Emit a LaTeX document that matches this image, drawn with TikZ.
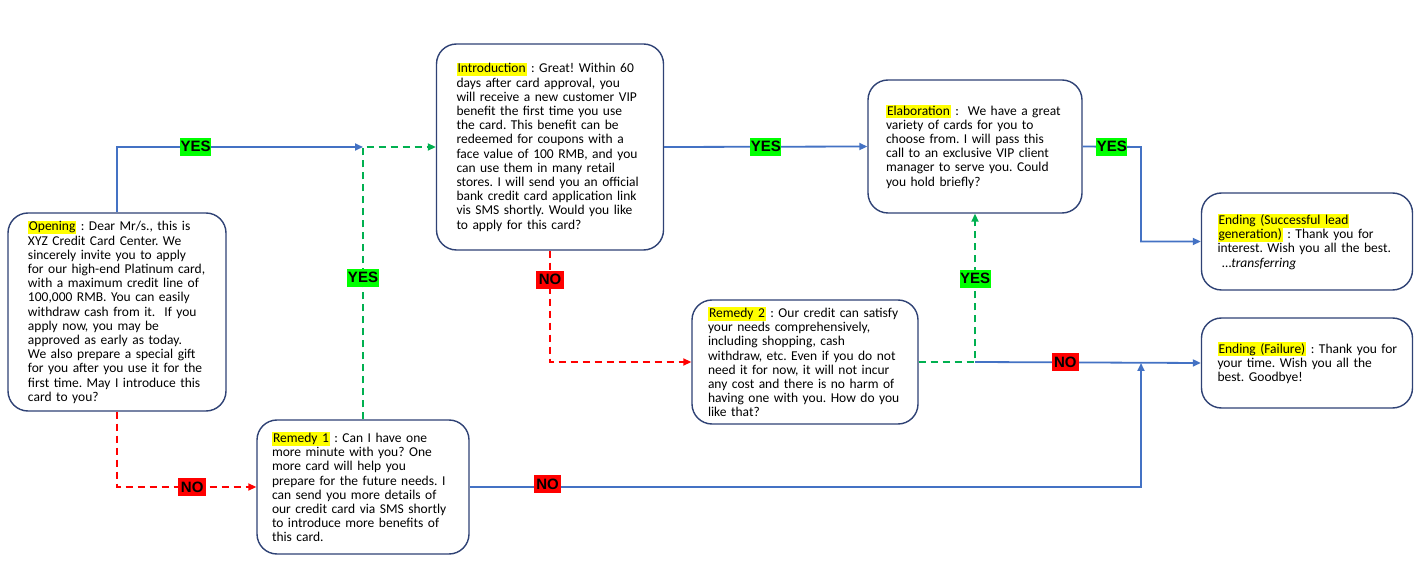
\documentclass[tikz,border=0pt]{standalone}
\usepackage{fontspec}
\setmainfont{Carlito}
\newfontfamily\lblfont{Liberation Sans}
\usetikzlibrary{arrows.meta}
\definecolor{lnblue}{HTML}{4472C4}
\definecolor{lngreen}{HTML}{00B050}
\definecolor{lnred}{HTML}{FF0000}
\definecolor{bxborder}{HTML}{2F4275}
\definecolor{hlyel}{HTML}{FFFF00}
\definecolor{lblgreen}{HTML}{00FF00}
\newcommand\hlt[1]{{\setlength{\fboxsep}{1pt}\colorbox{hlyel}{\vphantom{Ag}#1}}}
\frenchspacing
\begin{document}
\begin{tikzpicture}[x=1pt,y=-1pt,
  box/.style={draw=bxborder, line width=1.4pt, rounded corners=20pt, fill=white,
    align=left, inner xsep=4pt, inner ysep=2pt, font=\fontsize{13.5}{14.2}\selectfont\frenchspacing},
  tip/.style={-{Triangle[length=8pt,width=7pt]}},
  blueln/.style={draw=lnblue, line width=1.8pt, tip},
  greenln/.style={draw=lngreen, line width=1.8pt, dash pattern=on 7pt off 5pt, tip},
  redln/.style={draw=lnred, line width=1.8pt, dash pattern=on 7pt off 5pt, tip},
  lbl/.style={inner ysep=2pt, text height=12pt, text depth=2pt,
    font=\lblfont\bfseries\fontsize{15}{15}\selectfont, text=black},
  yeslbl/.style={lbl, inner xsep=0.5pt, fill=lblgreen},
  nolbl/.style={lbl, inner xsep=2.5pt, fill=lnred}]
\useasboundingbox (0,0) rectangle (1428,585);
\fill[white] (0,0) rectangle (1428,585);

\node[box, text width=210pt, minimum height=198pt] (open) at (117,312) {\leftskip=16pt
\hlt{Opening} : Dear Mr/s., this is\\
XYZ Credit Card Center. We\\
sincerely invite you to apply\\
for our high-end Platinum card,\\
with a maximum credit line of\\
100,000 RMB. You can easily\\
withdraw cash from it.\ \ If you\\
apply now, you may be\\
approved as early as today.\\
We also prepare a special gift\\
for you after you use it for the\\
first time. May I introduce this\\
card to you?\par};

\node[box, text width=204pt, minimum height=134pt] (rem1) at (363,487) {\leftskip=11pt
\hlt{Remedy 1} : Can I have one\\
more minute with you? One\\
more card will help you\\
prepare for the future needs. I\\
can send you more details of\\
our credit card via SMS shortly\\
to introduce more benefits of\\
this card.\par};

\node[box, text width=219pt, minimum height=206pt] (intro) at (550,147) {\leftskip=16pt
\hlt{Introduction} : Great! Within 60\\
days after card approval, you\\
will receive a new customer VIP\\
benefit the first time you use\\
the card. This benefit can be\\
redeemed for coupons with a\\
face value of 100 RMB, and you\\
can use them in many retail\\
stores. I will send you an official\\
bank credit card application link\\
vis SMS shortly. Would you like\\
to apply for this card?\par};

\node[box, text width=218pt, minimum height=124pt] (rem2) at (805,362) {\leftskip=12pt
\hlt{Remedy 2} : Our credit can satisfy\\
your needs comprehensively,\\
including shopping, cash\\
withdraw, etc. Even if you do not\\
need it for now, it will not incur\\
any cost and there is no harm of\\
having one with you. How do you\\
like that?\par};

\node[box, text width=206pt, minimum height=133pt] (elab) at (975,146.5) {\leftskip=14pt
\hlt{Elaboration} :\ \ We have a great\\
variety of cards for you to\\
choose from. I will pass this\\
call to an exclusive VIP client\\
manager to serve you. Could\\
you hold briefly?\par};

\node[box, text width=203pt, minimum height=97pt] (succ) at (1307,241.5) {\leftskip=12pt
\hlt{Ending (Successful lead}\\
\hlt{generation)} : Thank you for\\
interest. Wish you all the best.\\
\ \ldots\textit{transferring}\par};

\node[box, text width=203pt, minimum height=90pt] (fail) at (1307,363) {\leftskip=12pt
\hlt{Ending (Failure)} : Thank you for\\
your time. Wish you all the\\
best. Goodbye!\par};

\coordinate (jA) at (363,147);
\coordinate (k1) at (1141,147);
\coordinate (jC) at (elab.south |- rem2.east);

\draw[blueln] (open.north) |- node[yeslbl, pos=0.66] {YES} (jA);
\draw[greenln] (rem1.north) |- node[yeslbl, pos=0.26] {YES} (intro.west);
\draw[redln] (open.south) |- node[nolbl, pos=0.77] {NO} (rem1.west);
\draw[redln] (intro.south) |- node[nolbl, pos=0.13] {NO} (rem2.west);
\draw[blueln] (intro.east) -- node[yeslbl] {YES} (elab.west);
\draw[blueln] (elab.east) -- node[yeslbl] {YES} (k1) |- (succ.west);
\draw[greenln] (rem2.east) -| node[yeslbl, pos=0.78] {YES} (elab.south);
\draw[blueln] (jC) -- node[nolbl, pos=0.4] {NO} (fail.west);
\draw[blueln] (rem1.east) -| node[nolbl, pos=0.058, yshift=3pt] {NO} (k1 |- fail.west);
\end{tikzpicture}
\end{document}
